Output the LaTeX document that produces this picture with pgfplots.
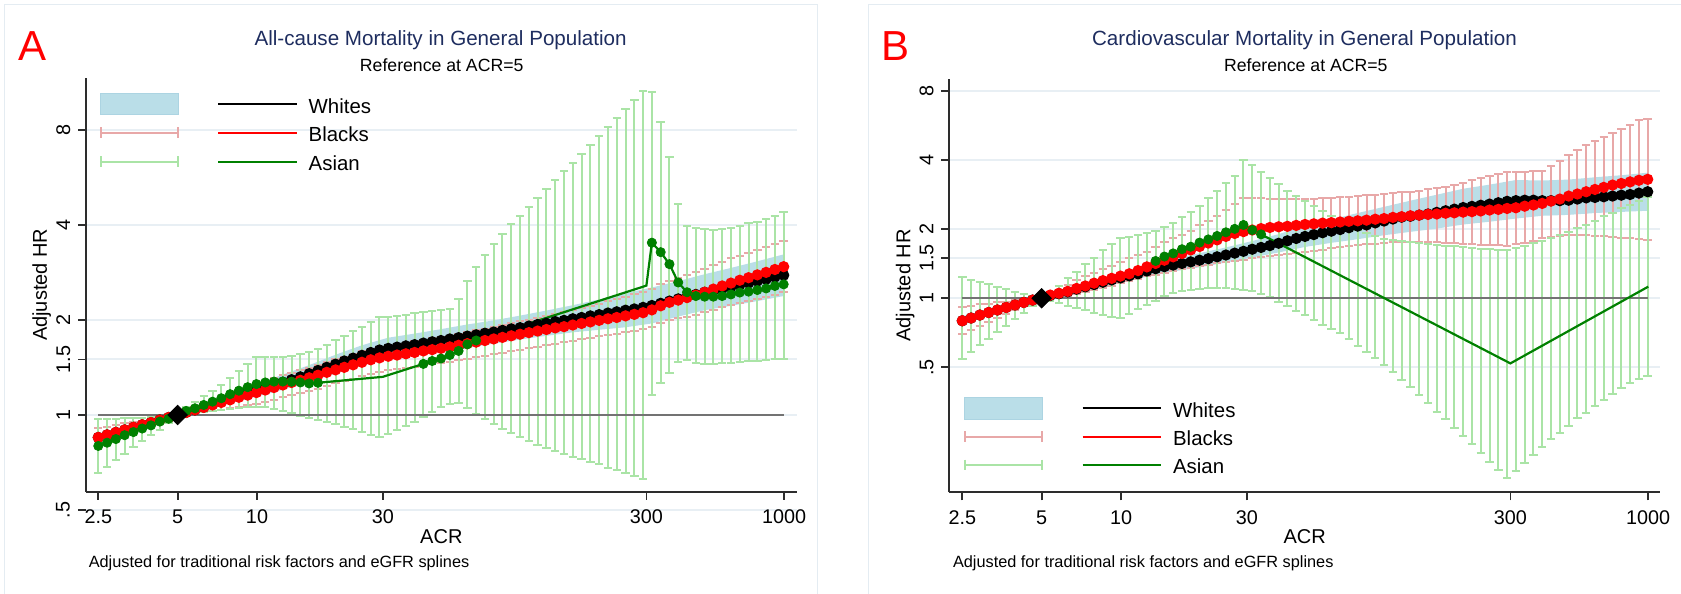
\documentclass[border=0pt]{standalone}
\usepackage{fontspec}
\setmainfont{Liberation Sans}
\usepackage{pgfplots}
\usepackage{pgfplotstable}
\pgfplotsset{compat=1.18}

\definecolor{bandblue}{RGB}{186,222,232}
\definecolor{bandedge}{RGB}{172,212,226}
\definecolor{pinkci}{RGB}{232,168,168}
\definecolor{greenci}{RGB}{170,228,166}
\definecolor{asiangreen}{RGB}{0,128,0}
\definecolor{gridc}{RGB}{232,239,244}
\definecolor{framec}{RGB}{228,236,242}
\definecolor{titlec}{RGB}{30,45,95}
\definecolor{refgray}{RGB}{115,115,115}
\definecolor{axisc}{RGB}{45,45,45}

\newcommand{\ticksize}{\fontsize{9.9pt}{11pt}\selectfont}
\newcommand{\labsize}{\fontsize{10pt}{12pt}\selectfont}
\newcommand{\legsize}{\fontsize{10.2pt}{12pt}\selectfont}
\newcommand{\titsize}{\fontsize{10.3pt}{12pt}\selectfont}
\newcommand{\subsize}{\fontsize{8.83pt}{10pt}\selectfont}
\newcommand{\notesize}{\fontsize{8.15pt}{10pt}\selectfont}
\newcommand{\panelsize}{\fontsize{21pt}{24pt}\selectfont}

% ---------- All-cause mortality ----------
% x = ACR, w = Whites, b = Blacks (bl, bh = 95% CI), a = Asian (al, ah = 95% CI)
\pgfplotstableread{
x      w     b     bl    bh    a     al    ah
2.500  0.849 0.849 0.792 0.908 0.798 0.655 0.968
2.700  0.865 0.865 0.813 0.918 0.817 0.685 0.971
2.915  0.881 0.881 0.836 0.929 0.839 0.719 0.973
3.147  0.897 0.897 0.857 0.940 0.863 0.755 0.975
3.399  0.914 0.914 0.879 0.948 0.883 0.792 0.977
3.670  0.931 0.931 0.904 0.959 0.906 0.826 0.979
3.962  0.946 0.946 0.925 0.968 0.927 0.863 0.984
4.278  0.964 0.964 0.948 0.979 0.953 0.899 0.989
4.620  0.982 0.982 0.975 0.989 0.973 0.940 0.993
4.988  1.000 1.000 1.000 1.000 1.000 1.000 1.000
5.386  1.019 1.019 1.007 1.028 1.030 1.007 1.059
5.816  1.038 1.038 1.014 1.057 1.050 1.014 1.102
6.280  1.059 1.057 1.021 1.086 1.076 1.021 1.148
6.781  1.081 1.076 1.030 1.114 1.102 1.028 1.191
7.321  1.104 1.096 1.040 1.143 1.130 1.035 1.247
7.906  1.127 1.117 1.050 1.172 1.164 1.042 1.306
8.536  1.151 1.138 1.062 1.202 1.194 1.050 1.380
9.217  1.172 1.156 1.072 1.227 1.225 1.057 1.452
9.953  1.197 1.178 1.084 1.256 1.253 1.062 1.524
10.75  1.222 1.200 1.102 1.282 1.268 1.057 1.528
11.60  1.245 1.222 1.119 1.309 1.276 1.045 1.528
12.53  1.271 1.245 1.138 1.337 1.276 1.028 1.531
13.53  1.294 1.268 1.156 1.361 1.274 1.012 1.538
14.61  1.321 1.288 1.172 1.387 1.268 0.995 1.556
15.77  1.352 1.312 1.194 1.413 1.259 0.979 1.585
17.03  1.384 1.337 1.213 1.442 1.265 0.964 1.622
18.39  1.416 1.365 1.239 1.472 nan   0.951 1.671
19.86  1.449 1.390 1.259 1.503 nan   0.935 1.726
21.44  1.483 1.416 1.282 1.531 nan   0.918 1.778
23.15  1.514 1.442 1.303 1.560 nan   0.902 1.841
25.00  1.545 1.469 1.327 1.592 nan   0.885 1.905
27.00  1.578 1.496 1.349 1.622 nan   0.867 1.972
29.15  1.607 1.517 1.368 1.644 nan   0.851 2.042
31.47  1.626 1.535 1.384 1.663 nan   0.871 2.051
33.99  1.641 1.549 1.396 1.679 nan   0.897 2.065
36.70  1.656 1.563 1.406 1.694 nan   0.925 2.080
39.62  1.671 1.578 1.419 1.710 nan   0.953 2.099
42.78  1.690 1.596 1.435 1.734 1.452 0.982 2.113
46.20  1.706 1.611 1.449 1.750 1.483 1.019 2.138
49.88  1.722 1.626 1.459 1.766 1.510 1.057 2.153
53.86  1.742 1.644 1.476 1.786 1.549 1.084 2.168
58.16  1.758 1.663 1.493 1.807 1.596 1.089 2.328
62.80  1.778 1.683 1.510 1.832 1.675 1.050 2.661
67.81  1.795 1.702 1.524 1.854 1.722 1.007 2.951
73.22  1.816 1.722 1.542 1.879 nan   0.968 3.214
79.06  1.832 1.742 1.560 1.905 nan   0.933 3.483
85.36  1.854 1.762 1.574 1.928 nan   0.904 3.750
92.17  1.875 1.782 1.592 1.954 nan   0.875 4.018
99.53  1.892 1.803 1.611 1.982 nan   0.849 4.285
107.5  1.914 1.824 1.626 2.004 nan   0.830 4.571
116.0  1.936 1.845 1.644 2.032 nan   0.805 4.887
125.3  1.954 1.866 1.663 2.061 nan   0.787 5.200
135.3  1.977 1.888 1.683 2.094 nan   0.771 5.559
146.1  1.995 1.905 1.698 2.118 nan   0.752 5.929
157.7  2.018 1.928 1.718 2.148 nan   0.738 6.310
170.3  2.037 1.950 1.738 2.183 nan   0.723 6.714
183.9  2.061 1.972 1.758 2.213 nan   0.708 7.178
198.6  2.080 1.995 1.778 2.254 nan   0.697 7.656
214.4  2.104 2.018 1.795 2.291 nan   0.681 8.204
231.5  2.123 2.037 1.811 2.328 nan   0.670 8.750
250.0  2.148 2.061 1.832 2.366 nan   0.656 9.333
270.0  2.168 2.084 1.849 2.410 nan   0.643 9.954
291.5  2.193 2.109 1.871 2.449 nan   0.629 10.64
314.7  2.223 2.153 1.901 2.506 3.516 1.156 10.57
339.9  2.259 2.218 1.954 2.594 3.281 1.265 8.492
367.0  2.296 2.275 1.995 2.667 3.006 1.361 6.577
396.2  2.333 2.312 2.023 2.716 2.630 1.476 4.667
427.8  2.371 2.355 2.051 2.780 2.449 1.493 3.981
462.0  2.410 2.399 2.080 2.838 2.382 1.466 3.908
498.8  2.449 2.449 2.113 2.904 2.371 1.452 3.873
538.6  2.483 2.506 2.153 2.979 2.371 1.452 3.855
581.6  2.512 2.564 2.193 3.055 2.382 1.459 3.882
628.0  2.547 2.618 2.228 3.133 2.410 1.466 3.926
678.1  2.582 2.673 2.265 3.199 2.443 1.472 3.981
732.2  2.618 2.723 2.296 3.266 2.460 1.483 4.046
790.6  2.655 2.780 2.333 3.342 2.489 1.486 4.102
853.6  2.692 2.831 2.366 3.412 2.518 1.493 4.169
921.7  2.735 2.891 2.404 3.483 2.564 1.503 4.276
995.3  2.773 2.951 2.449 3.565 2.594 1.510 4.406
}\tabA

% Whites 95% CI band: upper limit left to right, then lower limit back
\pgfplotstableread{
x      y
2.500  0.873
3.147  0.914
3.962  0.955
4.988  1.000
6.280  1.084
7.906  1.167
9.953  1.253
12.53  1.343
15.77  1.439
19.86  1.552
25.00  1.663
31.47  1.758
39.62  1.811
49.88  1.871
62.80  1.936
79.06  1.995
99.53  2.065
125.3  2.143
157.7  2.228
198.6  2.323
250.0  2.432
314.7  2.535
396.2  2.655
498.8  2.793
628.0  2.924
790.6  3.069
995.3  3.228
995.3  2.382
790.6  2.296
628.0  2.218
498.8  2.148
396.2  2.051
314.7  1.950
250.0  1.897
198.6  1.862
157.7  1.828
125.3  1.782
99.53  1.734
79.06  1.683
62.80  1.633
49.88  1.585
39.62  1.542
31.47  1.503
25.00  1.436
19.86  1.352
15.77  1.271
12.53  1.202
9.953  1.143
7.906  1.089
6.280  1.035
4.988  1.000
3.962  0.938
3.147  0.881
2.500  0.826
}\bandA

% Asian connecting line (estimates plus the knots at ACR 30 and 300)
\pgfplotstableread{
x      a
2.500  0.798
2.700  0.817
2.915  0.839
3.147  0.863
3.399  0.883
3.670  0.906
3.962  0.927
4.278  0.953
4.620  0.973
4.988  1.000
5.386  1.030
5.816  1.050
6.280  1.076
6.781  1.102
7.321  1.130
7.906  1.164
8.536  1.194
9.217  1.225
9.953  1.253
10.75  1.268
11.60  1.276
12.53  1.276
13.53  1.274
14.61  1.268
15.77  1.259
17.03  1.265
30.00  1.321
42.78  1.452
46.20  1.483
49.88  1.510
53.86  1.549
58.16  1.596
62.80  1.675
67.81  1.722
300.0  2.570
314.7  3.516
339.9  3.281
367.0  3.006
396.2  2.630
427.8  2.449
462.0  2.382
498.8  2.371
538.6  2.371
581.6  2.382
628.0  2.410
678.1  2.443
732.2  2.460
790.6  2.489
853.6  2.518
921.7  2.564
995.3  2.594
}\lineA

% ---------- Cardiovascular mortality ----------
\pgfplotstableread{
x      w     b     bl    bh    a     al    ah
2.500  0.798 0.798 0.698 0.914 nan   0.542 1.236
2.700  0.820 0.820 0.726 0.925 nan   0.581 1.202
2.915  0.845 0.845 0.757 0.940 nan   0.625 1.175
3.147  0.867 0.867 0.787 0.948 nan   0.664 1.151
3.399  0.889 0.889 0.818 0.959 nan   0.710 1.125
3.670  0.912 0.912 0.853 0.968 nan   0.759 1.094
3.962  0.935 0.935 0.887 0.979 nan   0.811 1.069
4.278  0.959 0.959 0.923 0.989 nan   0.865 1.045
4.620  0.982 0.982 0.962 0.995 nan   0.925 1.019
4.988  1.000 1.000 1.000 1.000 nan   1.000 1.000
5.386  1.028 1.033 1.014 1.045 nan   0.973 1.059
5.816  1.047 1.052 1.021 1.092 nan   0.951 1.132
6.280  1.067 1.072 1.028 1.140 nan   0.929 1.222
6.781  1.096 1.104 1.047 1.202 nan   0.908 1.306
7.321  1.122 1.132 1.064 1.250 nan   0.887 1.406
7.906  1.148 1.164 1.084 1.294 nan   0.867 1.496
8.536  1.175 1.194 1.109 1.340 nan   0.847 1.626
9.217  1.202 1.222 1.135 1.380 nan   0.828 1.726
9.953  1.227 1.250 1.161 1.439 nan   0.818 1.828
10.75  1.253 1.279 1.189 1.496 nan   0.851 1.854
11.60  1.279 1.321 1.216 1.549 nan   0.897 1.888
12.53  1.315 1.371 1.245 1.596 nan   0.933 1.919
13.53  1.346 1.419 1.268 1.679 1.455 0.973 1.959
14.61  1.374 1.466 1.294 1.766 1.521 1.023 2.042
15.77  1.396 1.517 1.318 1.828 1.570 1.052 2.138
17.03  1.419 1.570 1.340 1.884 1.637 1.072 2.265
18.39  1.442 1.626 1.358 1.972 1.679 1.086 2.388
19.86  1.466 1.683 1.380 2.080 1.750 1.099 2.535
21.44  1.489 1.742 1.400 2.178 1.807 1.107 2.742
23.15  1.517 1.799 1.419 2.280 1.871 1.109 2.951
25.00  1.545 1.862 1.439 2.427 1.941 1.107 3.177
27.00  1.574 1.919 1.459 2.570 2.009 1.099 3.428
29.15  1.603 1.954 1.476 2.735 2.089 1.086 4.027
31.47  1.637 1.986 1.496 2.729 1.986 1.072 3.819
33.99  1.667 2.014 1.514 2.729 1.901 1.047 3.548
36.70  1.698 2.037 1.531 2.723 nan   1.012 3.350
39.62  1.738 2.051 1.549 2.716 nan   0.966 3.162
42.78  1.782 2.061 1.560 2.716 nan   0.925 2.951
46.20  1.824 2.080 1.574 2.716 nan   0.883 2.793
49.88  1.862 2.099 1.585 2.716 nan   0.845 2.655
53.86  1.897 2.113 1.607 2.716 nan   0.804 2.523
58.16  1.932 2.128 1.629 2.729 nan   0.764 2.399
62.80  1.963 2.138 1.652 2.742 nan   0.731 2.280
67.81  1.995 2.153 1.671 2.761 nan   0.703 2.173
73.22  2.032 2.168 1.687 2.773 nan   0.662 2.075
79.06  2.065 2.178 1.706 2.793 nan   0.621 1.995
85.36  2.089 2.193 1.718 2.812 nan   0.585 1.928
92.17  2.133 2.213 1.734 2.831 nan   0.547 1.866
99.53  2.173 2.228 1.746 2.851 nan   0.512 1.816
107.5  2.218 2.254 1.754 2.871 nan   0.479 1.791
116.0  2.259 2.270 1.762 2.897 nan   0.441 1.770
125.3  2.280 2.291 1.766 2.917 nan   0.409 1.754
135.3  2.307 2.307 1.762 2.951 nan   0.378 1.742
146.1  2.333 2.323 1.758 2.992 nan   0.348 1.726
157.7  2.371 2.333 1.754 3.027 nan   0.320 1.706
170.3  2.410 2.350 1.746 3.069 nan   0.296 1.694
183.9  2.449 2.360 1.738 3.133 nan   0.273 1.683
198.6  2.489 2.377 1.726 3.199 nan   0.251 1.671
214.4  2.518 2.388 1.718 3.273 nan   0.231 1.656
231.5  2.547 2.404 1.710 3.342 nan   0.212 1.644
250.0  2.576 2.427 1.706 3.404 nan   0.194 1.637
270.0  2.612 2.443 1.702 3.475 nan   0.178 1.629
291.5  2.649 2.466 1.698 3.540 nan   0.164 1.618
314.7  2.667 2.483 1.722 3.556 nan   0.177 1.656
339.9  2.679 2.523 1.750 3.573 nan   0.192 1.694
367.0  2.679 2.553 1.786 3.589 nan   0.207 1.742
396.2  2.667 2.594 1.828 3.606 nan   0.224 1.770
427.8  2.667 2.655 1.854 3.767 nan   0.243 1.832
462.0  2.667 2.710 1.875 3.963 nan   0.259 1.892
498.8  2.679 2.793 1.884 4.236 nan   0.277 1.941
538.6  2.710 2.851 1.888 4.446 nan   0.299 2.023
581.6  2.742 2.917 1.884 4.677 nan   0.317 2.094
628.0  2.754 2.985 1.879 4.842 nan   0.339 2.168
678.1  2.773 3.048 1.866 5.058 nan   0.360 2.275
732.2  2.793 3.119 1.854 5.260 nan   0.382 2.355
790.6  2.818 3.170 1.841 5.483 nan   0.405 2.477
853.6  2.838 3.221 1.824 5.715 nan   0.426 2.559
921.7  2.877 3.273 1.811 5.970 nan   0.445 2.649
995.3  2.917 3.304 1.799 6.081 nan   0.458 2.767
}\tabB

\pgfplotstableread{
x      y
2.500  0.836
3.147  0.893
3.962  0.951
4.988  1.000
6.280  1.091
7.906  1.191
9.953  1.288
12.53  1.393
15.77  1.489
19.86  1.574
25.00  1.667
31.47  1.778
39.62  1.905
49.88  2.070
62.80  2.208
79.06  2.355
99.53  2.506
125.3  2.667
157.7  2.831
198.6  3.006
250.0  3.133
314.7  3.281
396.2  3.266
498.8  3.296
628.0  3.373
790.6  3.443
995.3  3.532
995.3  2.410
790.6  2.382
628.0  2.355
498.8  2.312
396.2  2.291
314.7  2.228
250.0  2.158
198.6  2.099
157.7  2.014
125.3  1.950
99.53  1.884
79.06  1.811
62.80  1.746
49.88  1.675
39.62  1.585
31.47  1.507
25.00  1.432
19.86  1.365
15.77  1.309
12.53  1.242
9.953  1.169
7.906  1.107
6.280  1.042
4.988  1.000
3.962  0.920
3.147  0.841
2.500  0.762
}\bandB

\pgfplotstableread{
x      a
13.53  1.455
14.61  1.521
15.77  1.570
17.03  1.637
18.39  1.679
19.86  1.750
21.44  1.807
23.15  1.871
25.00  1.941
27.00  2.009
29.15  2.089
31.47  1.986
33.99  1.901
300.0  0.520
1000   1.124
}\lineB

\pgfplotsset{
  hrpanel/.style={
    scale only axis, width=355.35pt, height=206.85pt,
    anchor=south west,
    xminorticks=false, yminorticks=false,
    axis x line*=bottom, axis y line*=left,
    axis line style={draw=axisc, line width=0.85pt},
    tick style={draw=axisc, line width=0.85pt},
    tick align=outside, major tick length=4pt,
    xtick={2.5,5,10,30,300,1000},
    xticklabels={2.5,5,10,30,300,1000},
    ymajorgrids, major grid style={draw=gridc, line width=1pt},
    tick label style={font=\ticksize},
    xticklabel style={anchor=base, yshift=-12.15pt},
    yticklabel style={xshift=-4pt, rotate=90, anchor=base},
    xlabel={ACR}, ylabel={Adjusted HR},
    label style={font=\labsize},
    xlabel style={at={(axis description cs:0.5,0)}, anchor=base, yshift=-25.8pt},
    ylabel style={at={(axis description cs:-0.0549,0.5)}, anchor=base},
  },
  cibars/.style={
    mark=none, draw=none, forget plot,
    error bars/.cd, y dir=both, y explicit,
    error bar style={draw=#1, line width=1pt},
    error mark=-,
    error mark options={draw=#1, line width=1pt, mark size=2.1pt, rotate=90},
  },
  dots/.style={#1, line width=1pt, mark=*, mark size=2.3pt,
    mark options={solid, draw=#1, fill=#1}},
  refmark/.style={only marks, mark=diamond*, mark size=4.85pt,
    mark options={xscale=1.33, draw=black, fill=black}},
}

\begin{document}
\begin{tikzpicture}
\begin{scope}[x=0.5pt, y=-0.5pt]
\path[use as bounding box] (0,0) rectangle (1681,594);

% panel frames
\draw[framec, line width=0.6pt] (4.3,600) -- (4.3,4.7) -- (817.3,4.7) -- (817.3,600);
\draw[framec, line width=0.6pt] (868.5,600) -- (868.5,4.7) -- (1690,4.7);

% ===== Panel A texts =====
\node[anchor=base west, inner sep=0pt, text=red, font=\panelsize] at (18.5,60) {A};
\node[anchor=base, inner sep=0pt, text=titlec, font=\titsize] at (440.6,45) {All-cause Mortality in General Population};
\node[anchor=base, inner sep=0pt, font=\subsize] at (441.7,71) {Reference at ACR=5};

% .5 reference level sits just below the plot region
\draw[gridc, line width=1pt] (77.7,510) -- (797,510);
\draw[axisc, line width=0.85pt] (78,510) -- (86,510);
\node[rotate=90, anchor=base, inner sep=0pt, font=\ticksize] at (69.5,510) {.5};

% ===== Panel B texts =====
\node[anchor=base west, inner sep=0pt, text=red, font=\panelsize] at (881,60) {B};
\node[anchor=base, inner sep=0pt, text=titlec, font=\titsize] at (1304.5,45) {Cardiovascular Mortality in General Population};
\node[anchor=base, inner sep=0pt, font=\subsize] at (1305.8,71) {Reference at ACR=5};
\end{scope}

% ===== Panel A =====
\begin{loglogaxis}[hrpanel, at={(43pt,-245.85pt)},
  xmin=2.2455, xmax=1115.3, ymin=0.5714, ymax=11.69,
  ytick={1,1.5,2,4,8}, yticklabels={1,1.5,2,4,8}]
  \addplot[fill=bandblue, draw=none, forget plot] table[x=x, y=y]{\bandA} -- cycle;
  \addplot[cibars=pinkci] table[x=x, y=bl, y error plus expr=\thisrow{bh}-\thisrow{bl}, y error minus expr=0]{\tabA};
  \addplot[cibars=greenci] table[x=x, y=al, y error plus expr=\thisrow{ah}-\thisrow{al}, y error minus expr=0]{\tabA};
  \addplot[refgray, line width=1pt, forget plot] coordinates {(2.5,1) (1000,1)};
  \addplot[dots=black] table[x=x, y=w]{\tabA};
  \addplot[dots=red] table[x=x, y=b]{\tabA};
  \addplot[asiangreen, line width=1.1pt] table[x=x, y=a]{\lineA};
  \addplot[only marks, mark=*, mark size=2.3pt, mark options={draw=asiangreen, fill=asiangreen}] table[x=x, y=a]{\tabA};
  \addplot[refmark] coordinates {(5,1)};
\end{loglogaxis}

% ===== Panel B =====
\begin{loglogaxis}[hrpanel, at={(474.65pt,-246.15pt)},
  xmin=2.2318, xmax=1108.5, ymin=0.1424, ymax=9.09,
  ytick={0.5,1,1.5,2,4,8}, yticklabels={.5,1,1.5,2,4,8}]
  \addplot[fill=bandblue, draw=none, forget plot] table[x=x, y=y]{\bandB} -- cycle;
  \addplot[cibars=pinkci] table[x=x, y=bl, y error plus expr=\thisrow{bh}-\thisrow{bl}, y error minus expr=0]{\tabB};
  \addplot[cibars=greenci] table[x=x, y=al, y error plus expr=\thisrow{ah}-\thisrow{al}, y error minus expr=0]{\tabB};
  \addplot[refgray, line width=1pt, forget plot] coordinates {(2.5,1) (1000,1)};
  \addplot[dots=black] table[x=x, y=w]{\tabB};
  \addplot[dots=red] table[x=x, y=b]{\tabB};
  \addplot[asiangreen, line width=1.1pt] table[x=x, y=a]{\lineB};
  \addplot[only marks, mark=*, mark size=2.3pt, mark options={draw=asiangreen, fill=asiangreen}] table[x=x, y=a]{\tabB};
  \addplot[refmark] coordinates {(5,1)};
\end{loglogaxis}

\begin{scope}[x=0.5pt, y=-0.5pt]
% legend A
\fill[bandblue, draw=bandedge, line width=0.4pt] (100,93.3) rectangle (178.3,114.3);
\draw[pinkci, line width=1pt] (101,132.7) -- (177.7,132.7) (101,127.4) -- (101,138) (177.7,127.4) -- (177.7,138);
\draw[greenci, line width=1pt] (101,161.7) -- (177.7,161.7) (101,156.4) -- (101,167) (177.7,156.4) -- (177.7,167);
\draw[black, line width=1pt] (218.3,104.3) -- (296.7,104.3);
\draw[red, line width=1pt] (218.3,132.7) -- (296.7,132.7);
\draw[asiangreen, line width=1pt] (218.3,161.7) -- (296.7,161.7);
\node[anchor=base west, inner sep=0pt, font=\legsize] at (308.3,113) {Whites};
\node[anchor=base west, inner sep=0pt, font=\legsize] at (308.3,141.4) {Blacks};
\node[anchor=base west, inner sep=0pt, font=\legsize] at (308.3,170.4) {Asian};
\node[anchor=base west, inner sep=0pt, font=\notesize] at (88.4,567) {Adjusted for traditional risk factors and eGFR splines};

% legend B
\fill[bandblue, draw=bandedge, line width=0.4pt] (964.3,397.3) rectangle (1042.3,419.3);
\draw[pinkci, line width=1pt] (965,436.7) -- (1041.7,436.7) (965,431.4) -- (965,442) (1041.7,431.4) -- (1041.7,442);
\draw[greenci, line width=1pt] (965,465) -- (1041.7,465) (965,459.7) -- (965,470.3) (1041.7,459.7) -- (1041.7,470.3);
\draw[black, line width=1pt] (1082.7,408.3) -- (1160.7,408.3);
\draw[red, line width=1pt] (1082.7,436.7) -- (1160.7,436.7);
\draw[asiangreen, line width=1pt] (1082.7,465) -- (1160.7,465);
\node[anchor=base west, inner sep=0pt, font=\legsize] at (1172.7,417) {Whites};
\node[anchor=base west, inner sep=0pt, font=\legsize] at (1172.7,445.4) {Blacks};
\node[anchor=base west, inner sep=0pt, font=\legsize] at (1172.7,473.7) {Asian};
\node[anchor=base west, inner sep=0pt, font=\notesize] at (952.6,567) {Adjusted for traditional risk factors and eGFR splines};
\end{scope}
\end{tikzpicture}
\end{document}
